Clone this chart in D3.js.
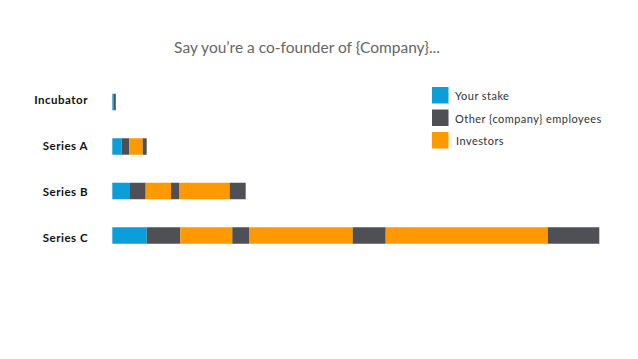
<!DOCTYPE html>
<html>
<head>
<meta charset="utf-8">
<script src="https://cdn.jsdelivr.net/npm/d3@7"></script>
<style>
  body { margin: 0; background: #fff; }
  text { font-family: Lato, "Open Sans", sans-serif; }
</style>
</head>
<body>
<div id="chart"></div>
<script>
// rounds and the three holder groups
var categories = ["Incubator", "Series A", "Series B", "Series C"];
var seriesNames = ["Your stake", "Other {company} employees", "Investors"];
var colors = ["#0b9fda", "#4e5055", "#fe9900"];

// each row is a run of segments: which holder (index in seriesNames) and how big
var segmentTypes = [
    [0, 1],
    [0, 1, 2, 1],
    [0, 1, 2, 1, 2, 1],
    [0, 1, 2, 1, 2, 1, 2, 1]
];
var segmentValues = [
    [1.5, 2],
    [9.4, 7.6, 13.4, 4],
    [17.7, 15.7, 25.3, 8, 50.7, 16],
    [34.4, 33.6, 52, 16.7, 103.7, 33, 162, 51.6]
];

var width = 638, height = 359;

var svg = d3.select("#chart").append("svg")
    .attr("width", width)
    .attr("height", height);

var x = d3.scaleLinear()
    .domain([0, 487])
    .range([112.3, 599.3]);

var y = d3.scalePoint()
    .domain(categories)
    .range([102, 235.5]);

// labels sit on a slightly wider spacing than the bars
var yLabel = d3.scalePoint()
    .domain(categories)
    .range([103.5, 241.5]);

var barH = 16.5;

// title
svg.append("text")
    .attr("x", 307)
    .attr("y", 53)
    .attr("text-anchor", "middle")
    .style("font-size", "15.5px")
    .style("fill", "#666")
    .text("Say you\u2019re a co-founder of {Company}...");

// build segment records with running offsets
var rows = categories.map(function(c, i) {
    var acc = 0;
    return segmentValues[i].map(function(v, j) {
        var s = {cat: c, type: segmentTypes[i][j], x0: acc, x1: acc + v};
        acc += v;
        return s;
    });
});

var g = svg.selectAll(".row")
    .data(rows)
    .enter().append("g")
    .attr("class", "row");

g.selectAll("rect")
    .data(function(d) { return d; })
    .enter().append("rect")
    .attr("x", function(d) { return x(d.x0); })
    .attr("width", function(d) { return x(d.x1) - x(d.x0); })
    .attr("y", function(d) { return y(d.cat) - barH / 2; })
    .attr("height", barH)
    .style("fill", function(d) { return colors[d.type]; });

// row labels
svg.selectAll(".lbl")
    .data(categories)
    .enter().append("text")
    .attr("class", "lbl")
    .attr("x", 88)
    .attr("y", function(d) { return yLabel(d); })
    .attr("text-anchor", "end")
    .style("font-size", "11.5px")
    .style("letter-spacing", "0.5px")
    .style("font-weight", "bold")
    .style("fill", "#111")
    .text(function(d) { return d; });

// legend
var leg = svg.selectAll(".leg")
    .data(seriesNames)
    .enter().append("g")
    .attr("class", "leg")
    .attr("transform", function(d, i) { return "translate(432," + (87 + i * 22.5) + ")"; });

leg.append("rect")
    .attr("width", 16.5)
    .attr("height", 16.5)
    .style("fill", function(d, i) { return colors[i]; });

leg.append("text")
    .attr("x", function(d, i) { return i == 2 ? 24 : 23; })
    .attr("y", 13)
    .style("font-size", "11px")
    .style("letter-spacing", "0.45px")
    .style("fill", "#333")
    .text(function(d) { return d; });
</script>
</body>
</html>
